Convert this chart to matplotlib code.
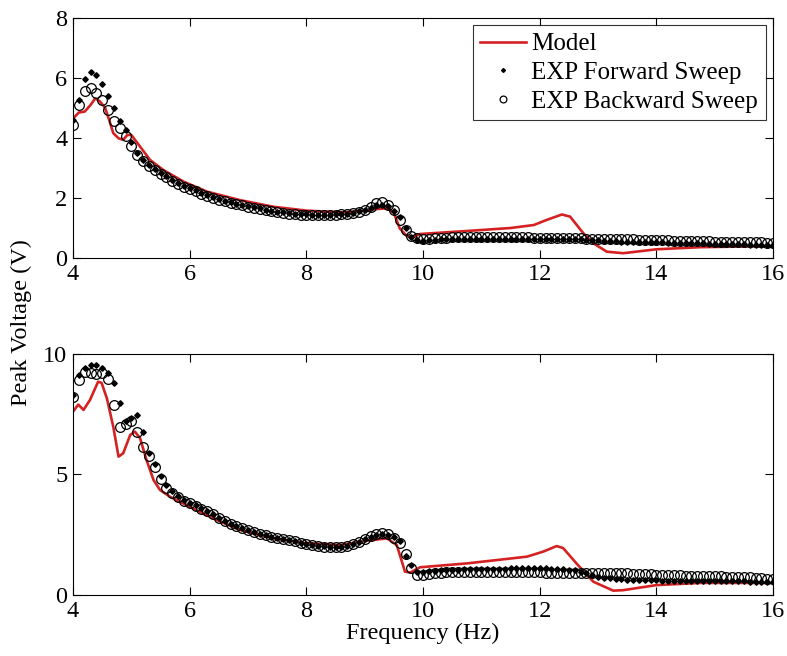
import numpy as np
import matplotlib
matplotlib.use("Agg")
import matplotlib.pyplot as plt

# ---------------- data ----------------
# experimental sweep frequencies (Hz), 0.1 Hz steps from 4 to 16
freq_exp = np.round(np.linspace(4.0, 16.0, 121), 1)

top_backward = [
    4.43, 5.10, 5.55, 5.65, 5.50, 5.25, 4.92, 4.58, 4.32, 4.08,
    3.72, 3.42, 3.22, 3.05, 2.92, 2.80, 2.69, 2.58, 2.47, 2.38,
    2.30, 2.22, 2.14, 2.06, 1.99, 1.94, 1.89, 1.84, 1.79, 1.75,
    1.71, 1.67, 1.63, 1.59, 1.55, 1.52, 1.50, 1.48, 1.46, 1.44,
    1.43, 1.42, 1.42, 1.42, 1.42, 1.43, 1.45, 1.47, 1.50, 1.54,
    1.60, 1.70, 1.82, 1.87, 1.78, 1.60, 1.27, 0.95, 0.74, 0.66,
    0.64, 0.65, 0.66, 0.67, 0.68, 0.69, 0.69, 0.69, 0.69, 0.70,
    0.70, 0.70, 0.70, 0.70, 0.70, 0.70, 0.69, 0.69, 0.69, 0.68,
    0.68, 0.68, 0.67, 0.67, 0.67, 0.66, 0.66, 0.66, 0.65, 0.65,
    0.64, 0.64, 0.63, 0.63, 0.62, 0.62, 0.62, 0.61, 0.61, 0.60,
    0.60, 0.59, 0.59, 0.58, 0.58, 0.58, 0.57, 0.57, 0.56, 0.56,
    0.55, 0.55, 0.54, 0.54, 0.53, 0.53, 0.52, 0.52, 0.52, 0.51,
    0.51]

top_forward = [
    4.60, 5.27, 5.95, 6.20, 6.10, 5.80, 5.40, 5.00, 4.57, 4.25,
    3.85, 3.50, 3.27, 3.10, 2.96, 2.83, 2.72, 2.61, 2.50, 2.41,
    2.33, 2.25, 2.17, 2.09, 2.02, 1.96, 1.91, 1.86, 1.81, 1.77,
    1.73, 1.69, 1.65, 1.61, 1.57, 1.54, 1.52, 1.50, 1.48, 1.46,
    1.45, 1.44, 1.44, 1.44, 1.44, 1.45, 1.46, 1.48, 1.51, 1.55,
    1.60, 1.67, 1.76, 1.78, 1.72, 1.58, 1.38, 1.00, 0.70, 0.60,
    0.58, 0.60, 0.61, 0.62, 0.63, 0.63, 0.64, 0.64, 0.64, 0.65,
    0.65, 0.65, 0.65, 0.65, 0.65, 0.65, 0.65, 0.65, 0.65, 0.64,
    0.64, 0.64, 0.64, 0.63, 0.63, 0.63, 0.62, 0.62, 0.61, 0.60,
    0.59, 0.58, 0.57, 0.56, 0.55, 0.55, 0.54, 0.54, 0.53, 0.53,
    0.52, 0.52, 0.51, 0.51, 0.50, 0.50, 0.50, 0.49, 0.49, 0.48,
    0.48, 0.47, 0.47, 0.47, 0.46, 0.46, 0.45, 0.45, 0.45, 0.44,
    0.44]

top_model_f = [4.0, 4.1, 4.2, 4.3, 4.38, 4.46, 4.55, 4.62, 4.69, 4.78,
               4.86, 4.93, 5.0, 5.15, 5.32, 5.55, 5.9, 6.3, 6.86, 7.43,
               8.0, 8.6, 9.0, 9.2, 9.38, 9.5, 9.6, 9.72, 9.83, 9.95,
               10.75, 11.5, 11.9, 12.12, 12.38, 12.52, 12.75, 12.92, 13.15, 13.43,
               14.0, 14.75, 16.0]
top_model_v = [4.65, 4.85, 4.88, 5.10, 5.32, 5.22, 5.00, 4.60, 4.16, 3.99,
               3.94, 4.10, 4.10, 3.71, 3.27, 2.93, 2.54, 2.21, 1.93, 1.71,
               1.58, 1.52, 1.57, 1.63, 1.66, 1.50, 0.99, 0.73, 0.69, 0.80,
               0.90, 1.00, 1.10, 1.27, 1.45, 1.38, 0.82, 0.49, 0.21, 0.16,
               0.29, 0.36, 0.40]

bot_backward = [
    8.20, 8.92, 9.25, 9.20, 9.15, 9.20, 8.95, 7.88, 6.95, 7.08,
    7.23, 6.75, 6.15, 5.75, 5.32, 4.80, 4.45, 4.25, 4.05, 3.92,
    3.80, 3.70, 3.58, 3.47, 3.36, 3.20, 3.07, 2.96, 2.87, 2.78,
    2.70, 2.62, 2.55, 2.48, 2.42, 2.37, 2.32, 2.27, 2.22, 2.17,
    2.12, 2.08, 2.04, 2.01, 1.99, 1.98, 2.00, 2.04, 2.10, 2.20,
    2.32, 2.45, 2.55, 2.59, 2.52, 2.38, 2.15, 1.72, 1.12, 0.85,
    0.84, 0.88, 0.91, 0.93, 0.94, 0.95, 0.95, 0.95, 0.96, 0.96,
    0.96, 0.97, 0.97, 0.97, 0.96, 0.96, 0.96, 0.95, 0.95, 0.94,
    0.94, 0.93, 0.93, 0.92, 0.92, 0.91, 0.91, 0.90, 0.90, 0.90,
    0.90, 0.90, 0.90, 0.90, 0.90, 0.90, 0.89, 0.88, 0.87, 0.86,
    0.85, 0.84, 0.83, 0.82, 0.81, 0.80, 0.80, 0.79, 0.78, 0.78,
    0.77, 0.77, 0.76, 0.76, 0.75, 0.74, 0.73, 0.72, 0.70, 0.68,
    0.66]

bot_forward = [
    8.30, 9.13, 9.40, 9.54, 9.54, 9.40, 9.22, 8.81, 7.95, 7.20,
    7.33, 7.47, 6.75, 5.90, 5.45, 4.95, 4.55, 4.30, 4.10, 3.95,
    3.83, 3.72, 3.60, 3.48, 3.36, 3.20, 3.07, 2.96, 2.87, 2.78,
    2.70, 2.62, 2.55, 2.48, 2.42, 2.37, 2.32, 2.27, 2.22, 2.17,
    2.13, 2.09, 2.05, 2.02, 2.00, 1.99, 2.01, 2.05, 2.11, 2.20,
    2.31, 2.42, 2.50, 2.55, 2.50, 2.40, 2.25, 1.60, 1.24, 0.95,
    0.95, 0.98, 1.00, 1.02, 1.03, 1.04, 1.05, 1.06, 1.06, 1.07,
    1.07, 1.08, 1.08, 1.09, 1.09, 1.10, 1.10, 1.10, 1.10, 1.10,
    1.10, 1.10, 1.09, 1.08, 1.07, 1.05, 1.02, 0.97, 0.90, 0.82,
    0.76, 0.72, 0.69, 0.67, 0.65, 0.64, 0.63, 0.62, 0.62, 0.61,
    0.61, 0.60, 0.60, 0.60, 0.59, 0.59, 0.59, 0.58, 0.58, 0.58,
    0.57, 0.57, 0.57, 0.56, 0.56, 0.56, 0.55, 0.55, 0.55, 0.55,
    0.55]

bot_model_f = [4.0, 4.09, 4.18, 4.29, 4.43, 4.49, 4.58, 4.69, 4.78, 4.86,
               4.98, 5.06, 5.15, 5.26, 5.38, 5.49, 5.66, 6.0, 6.4, 6.86,
               7.43, 8.0, 8.58, 9.03, 9.38, 9.55, 9.69, 9.78, 9.95, 10.75,
               11.78, 12.06, 12.29, 12.4, 12.63, 12.92, 13.26, 13.43, 14.0, 14.75,
               16.0]
bot_model_v = [7.61, 7.90, 7.68, 8.09, 8.85, 8.80, 8.16, 6.98, 5.74, 5.88,
               6.64, 6.78, 6.50, 5.60, 4.77, 4.36, 4.08, 3.66, 3.18, 2.70,
               2.35, 2.15, 2.07, 2.25, 2.35, 2.07, 0.97, 0.93, 1.15, 1.31,
               1.59, 1.80, 2.03, 1.95, 1.31, 0.55, 0.18, 0.20, 0.41, 0.50,
               0.50]

top_yticks = [0, 2, 4, 6, 8]
bot_yticks = [0, 5, 10]
xticks = [4, 6, 8, 10, 12, 14, 16]

# ---------------- style ----------------
plt.rcParams['font.family'] = ['Liberation Serif', 'DejaVu Serif']
plt.rcParams['font.size'] = 17
RED = '#d42222'

fig = plt.figure(figsize=(7.87, 6.56), dpi=100)
ax1 = fig.add_axes([0.0928, 0.6067, 0.8895, 0.3659])
ax2 = fig.add_axes([0.0928, 0.0930, 0.8895, 0.3674])


def draw(ax, mf, mv, fwd, bwd, ylim, yticks):
    ax.plot(mf, mv, color=RED, lw=1.9, label='Model', zorder=2)
    ax.plot(freq_exp, fwd, linestyle='none', marker='D', ms=2.8,
            color='black', label='EXP Forward Sweep', zorder=3)
    ax.plot(freq_exp, bwd, linestyle='none', marker='o', ms=7,
            mfc='none', mec='black', mew=0.9, label='EXP Backward Sweep', zorder=4)
    ax.set_xlim(4, 16)
    ax.set_ylim(*ylim)
    ax.set_xticks(xticks)
    ax.set_yticks(yticks)
    ax.tick_params(direction='in', top=True, right=True, length=6,
                   width=0.8, labelsize=17.5, pad=4)
    for s in ax.spines.values():
        s.set_linewidth(0.8)


draw(ax1, top_model_f, top_model_v, top_forward, top_backward, (0, 8), top_yticks)
draw(ax2, bot_model_f, bot_model_v, bot_forward, bot_backward, (0, 10), bot_yticks)

leg = ax1.legend(loc='upper right', fontsize=18, frameon=True, fancybox=False,
                 edgecolor='black', borderaxespad=0.3, handlelength=1.85,
                 handletextpad=0.2, labelspacing=0.25, borderpad=0.3,
                 markerscale=0.7)
leg.get_frame().set_linewidth(0.8)

ax2.set_xlabel('Frequency (Hz)', fontsize=17.5, labelpad=1)
fig.text(0.027, 0.509, 'Peak Voltage (V)', rotation=90, ha='center',
         va='center', fontsize=17.5)

fig.savefig('out.png', dpi=100)
